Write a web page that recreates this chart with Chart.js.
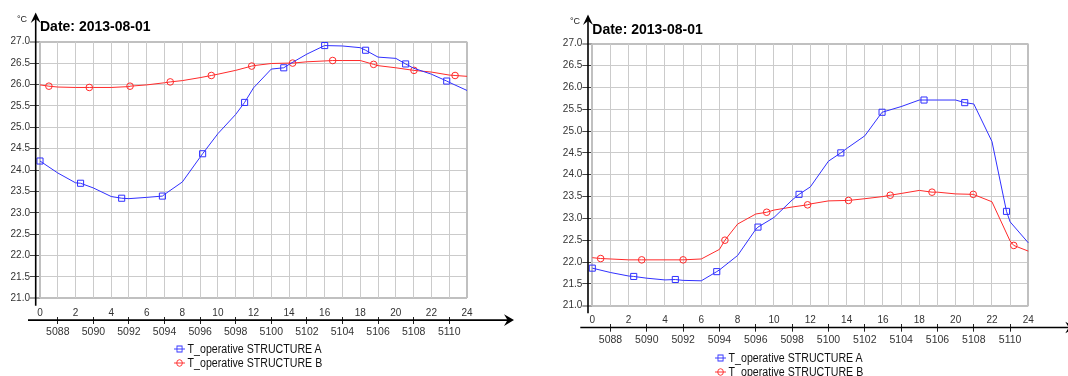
<!DOCTYPE html>
<html><head><meta charset="utf-8">
<script src="https://cdn.jsdelivr.net/npm/chart.js@4.4.1/dist/chart.umd.min.js"></script>
<style>
html,body{margin:0;padding:0;background:#fff;overflow:hidden;width:1068px;height:376px;}
.panel{position:absolute;top:0;width:534px;height:376px;overflow:visible;}
.panel canvas{position:absolute;left:0;top:0;}
.unit{position:absolute;font:9px 'Liberation Sans',Arial,sans-serif;color:#222;line-height:10px;white-space:nowrap;}
.legend{position:absolute;font:12.5px 'Liberation Sans',Arial,sans-serif;color:#111;transform:scaleX(0.85);transform-origin:0 0;}
.legend .row{display:flex;align-items:center;height:14px;white-space:nowrap;}
.legend svg{margin-right:3px;flex:none;}
</style></head>
<body>
<div class="panel" id="p1" style="left:0px"><canvas id="c1" width="534" height="376"></canvas></div>
<div class="panel" id="p2" style="left:534px"><canvas id="c2" width="534" height="376"></canvas></div>
<script>
// ---------- data ----------
const titleText = 'Date: 2013-08-01';
const unitText = '°C';
const seriesNames = ['T_operative STRUCTURE A', 'T_operative STRUCTURE B'];
const hours = [0,1,2,3,4,5,6,7,8,9,10,11,12,13,14,15,16,17,18,19,20,21,22,23,24];
const hourTickLabels = ['0','2','4','6','8','10','12','14','16','18','20','22','24'];
const offsetTickHours = [1,3,5,7,9,11,13,15,17,19,21,23];
const offsetLabels = ['5088','5090','5092','5094','5096','5098','5100','5102','5104','5106','5108','5110'];
const yTickLabels = ['21.0','21.5','22.0','22.5','23.0','23.5','24.0','24.5','25.0','25.5','26.0','26.5','27.0'];

// left panel, hourly values
const leftA = [24.21,23.93,23.70,23.58,23.38,23.33,23.36,23.43,23.72,24.30,24.85,25.30,25.92,26.36,26.47,26.71,26.91,26.90,26.86,26.64,26.61,26.38,26.24,26.05,25.86];
const leftB = [25.99,25.94,25.93,25.93,25.93,25.95,25.99,26.04,26.09,26.16,26.24,26.33,26.44,26.49,26.50,26.53,26.55,26.56,26.56,26.44,26.39,26.33,26.29,26.22,26.19];
// left panel, marker positions (hour) and values
const leftAMarkHours = [0,2.28,4.59,6.88,9.14,11.5,13.7,16.0,18.3,20.55,22.86];
const leftAMarkVals  = [24.21,23.69,23.34,23.39,24.38,25.58,26.39,26.91,26.80,26.48,26.08];
const leftBMarkHours = [0.5,2.77,5.06,7.32,9.63,11.9,14.2,16.45,18.75,21.02,23.33];
const leftBMarkVals  = [25.96,25.93,25.96,26.06,26.21,26.43,26.50,26.56,26.47,26.33,26.21];

// right panel, hourly values
const rightA = [21.86,21.76,21.68,21.63,21.59,21.58,21.57,21.82,22.15,22.75,23.02,23.42,23.72,24.31,24.60,24.89,25.43,25.56,25.71,25.71,25.71,25.62,24.76,22.92,22.44];
const rightB = [22.10,22.07,22.05,22.05,22.05,22.05,22.07,22.29,22.87,23.10,23.19,23.26,23.33,23.40,23.41,23.45,23.50,23.57,23.64,23.60,23.56,23.55,23.38,22.48,22.25];
const rightAMarkHours = [0,2.28,4.57,6.85,9.12,11.38,13.68,15.95,18.26,20.5,22.8];
const rightAMarkVals  = [21.86,21.67,21.60,21.78,22.80,23.55,24.50,25.43,25.71,25.65,23.16];
const rightBMarkHours = [0.46,2.72,5.0,7.3,9.6,11.85,14.1,16.4,18.7,20.97,23.2];
const rightBMarkVals  = [22.08,22.05,22.05,22.50,23.14,23.31,23.41,23.53,23.60,23.55,22.38];

// ---------- styling ----------
const BLUE = '#3030ff';
const RED = '#ff2a2a';
const FONT = "'Liberation Sans',Arial,sans-serif";
Chart.defaults.font.family = FONT;

function buildPoints(vals, markH, markV) {
  const pts = hours.map((h, i) => ({x: h, y: vals[i], m: false}));
  markH.forEach((h, i) => {
    const ex = pts.find(p => Math.abs(p.x - h) < 1e-6);
    if (ex) { ex.y = markV[i]; ex.m = true; }
    else pts.push({x: h, y: markV[i], m: true});
  });
  pts.sort((a, b) => a.x - b.x);
  return pts;
}

const arrowPlugin = {
  id: 'axisArrows',
  afterDraw(chart) {
    const ca = chart.chartArea;
    const ctx = chart.ctx;
    ctx.save();
    ctx.strokeStyle = '#000';
    ctx.fillStyle = '#000';
    ctx.lineWidth = 1.6;
    // y axis
    const ax = ca.left - 4.3;
    const tipY = ca.top - 29.3;
    ctx.beginPath();
    ctx.moveTo(ax, ca.bottom + 7.5);
    ctx.lineTo(ax, tipY + 4);
    ctx.stroke();
    ctx.beginPath();
    ctx.moveTo(ax, tipY);
    ctx.lineTo(ax - 5, tipY + 10.5);
    ctx.lineTo(ax, tipY + 6.5);
    ctx.lineTo(ax + 5, tipY + 10.5);
    ctx.closePath();
    ctx.fill();
    // x axis
    const ay = ca.bottom + 21.8;
    const tipX = ca.right + 47;
    ctx.beginPath();
    ctx.moveTo(ca.left - 12, ay);
    ctx.lineTo(tipX - 4, ay);
    ctx.stroke();
    ctx.beginPath();
    ctx.moveTo(tipX, ay);
    ctx.lineTo(tipX - 10, ay - 5.8);
    ctx.lineTo(tipX - 6.5, ay);
    ctx.lineTo(tipX - 10, ay + 5.8);
    ctx.closePath();
    ctx.fill();
    ctx.restore();
  }
};

function isEdge(c, min, max) {
  return c.tick && (Math.abs(c.tick.value - min) < 1e-9 || Math.abs(c.tick.value - max) < 1e-9);
}
const edgeWidth = (min, max) => (c) => isEdge(c, min, max) ? 2 : 1;
const edgeColor = (min, max) => (c) => isEdge(c, min, max) ? '#c0c0c0' : '#cbcbcb';

function makeChart(canvasId, A, B, g) {
  const ds = (label, pts, color, style, r) => ({
    label, data: pts, borderColor: color, backgroundColor: color, borderWidth: 1, tension: 0,
    pointStyle: style, pointRadius: (c) => (c.raw && c.raw.m) ? r : 0, pointHoverRadius: 0,
    pointBorderColor: color, pointBackgroundColor: 'rgba(255,255,255,0)', pointBorderWidth: 1,
    clip: 6, xAxisID: 'x', yAxisID: 'y'
  });
  return new Chart(document.getElementById(canvasId), {
    type: 'line',
    data: {
      datasets: [
        ds(seriesNames[0], A, BLUE, 'rect', 4.3),
        ds(seriesNames[1], B, RED, 'circle', 3.3)
      ]
    },
    plugins: [arrowPlugin],
    options: {
      responsive: false,
      animation: false,
      events: [],
      layout: {padding: {left: 0, top: 0, right: g.padRight, bottom: 0}},
      plugins: {
        legend: {display: false},
        tooltip: {enabled: false},
        title: {
          display: true, text: titleText, align: 'start', fullSize: false,
          color: '#000', font: {size: 14, weight: 'bold', family: FONT, lineHeight: 1.2},
          padding: {top: g.titleTop, bottom: g.titleBottom}
        }
      },
      scales: {
        y: {
          type: 'linear', position: 'left', min: 21, max: 27,
          ticks: {stepSize: 0.5, padding: 0, color: '#333', font: {size: 10},
                  callback: (v, i) => yTickLabels[i]},
          grid: {color: edgeColor(21, 27), lineWidth: edgeWidth(21, 27), drawTicks: true, tickLength: 10, tickColor: '#444', tickWidth: 1},
          border: {display: false},
          afterFit: (s) => { s.width = g.yWidth; }
        },
        x: {
          type: 'linear', position: 'bottom', weight: 1, min: 0, max: 24,
          ticks: {stepSize: 1, autoSkip: false, maxRotation: 0, padding: g.hourPad, color: '#333', font: {size: 10},
                  callback: (v) => (v % 2 === 0) ? hourTickLabels[v / 2] : ''},
          grid: {color: edgeColor(0, 24), lineWidth: edgeWidth(0, 24), drawTicks: false},
          border: {display: false},
          afterFit: (s) => { s.height = g.xHeight; }
        },
        x2: {
          type: 'linear', position: 'bottom', weight: 2, min: 0, max: 24,
          afterBuildTicks: (s) => { s.ticks = offsetTickHours.map(v => ({value: v})); },
          ticks: {autoSkip: false, maxRotation: 0, padding: g.x2Pad, color: '#333', font: {size: 10.5},
                  callback: (v, i) => offsetLabels[i]},
          grid: {drawOnChartArea: false, drawTicks: true, tickLength: g.x2TickLen, tickColor: '#222', tickWidth: 1},
          border: {display: false},
          afterFit: (s) => { s.height = g.x2Height; }
        }
      }
    }
  });
}

function addDecor(panelId, chart, unitPos, legendPos) {
  const panel = document.getElementById(panelId);
  const u = document.createElement('div');
  u.className = 'unit';
  u.style.left = unitPos[0] + 'px';
  u.style.top = unitPos[1] + 'px';
  u.textContent = unitText;
  panel.appendChild(u);
  const lg = document.createElement('div');
  lg.className = 'legend';
  lg.style.left = legendPos[0] + 'px';
  lg.style.top = legendPos[1] + 'px';
  chart.data.datasets.forEach(d => {
    const row = document.createElement('div');
    row.className = 'row';
    const c = d.borderColor;
    const mark = d.pointStyle === 'rect'
      ? `<rect x="3.5" y="3" width="6" height="6" fill="none" stroke="${c}"/>`
      : `<circle cx="6.5" cy="6" r="3.3" fill="none" stroke="${c}"/>`;
    row.innerHTML = `<svg width="13" height="12" viewBox="0 0 13 12"><line x1="0" y1="6" x2="13" y2="6" stroke="${c}"/>${mark}</svg>`;
    const t = document.createElement('span');
    t.textContent = d.label;
    row.appendChild(t);
    lg.appendChild(row);
  });
  panel.appendChild(lg);
}

const chart1 = makeChart('c1',
  buildPoints(leftA, leftAMarkHours, leftAMarkVals),
  buildPoints(leftB, leftBMarkHours, leftBMarkVals),
  {yWidth: 40, padRight: 67, titleTop: 19, titleBottom: 5.9, xHeight: 18.4, x2Height: 59.3, hourPad: 9.4, x2TickLen: 7.3, x2Pad: 1.8});
const chart2 = makeChart('c2',
  buildPoints(rightA, rightAMarkHours, rightAMarkVals),
  buildPoints(rightB, rightBMarkHours, rightBMarkVals),
  {yWidth: 58.3, padRight: 39.7, titleTop: 22, titleBottom: 4.9, xHeight: 18.6, x2Height: 51.7, hourPad: 9.0, x2TickLen: 7.4, x2Pad: 2.1});

addDecor('p1', chart1, [17, 13.5], [174, 342.3]);
addDecor('p2', chart2, [36, 15.7], [181, 350.7]);
</script>
</body></html>
